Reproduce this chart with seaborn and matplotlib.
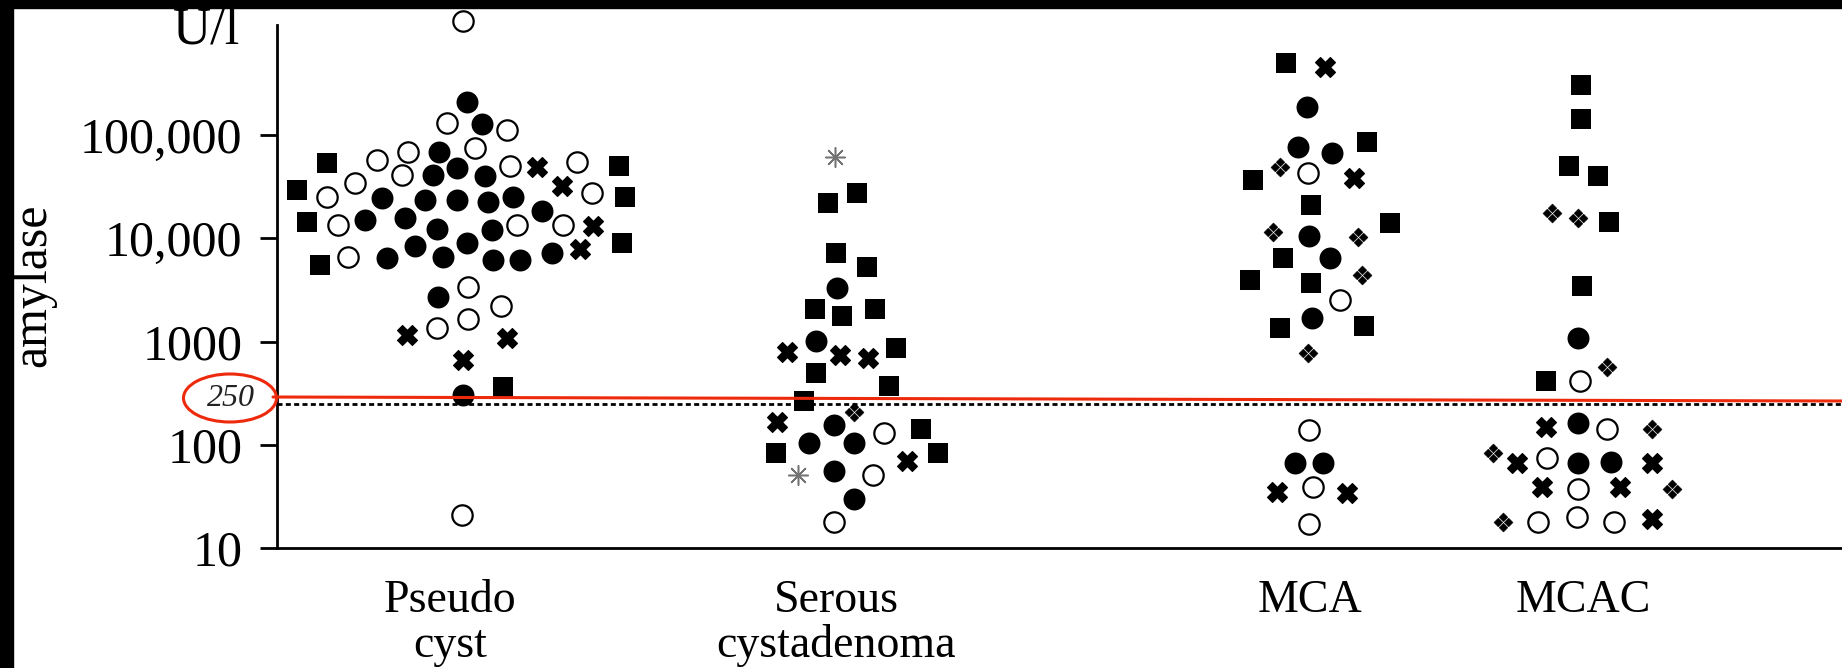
import numpy as np
import pandas as pd
import seaborn as sns
import matplotlib.pyplot as plt
from matplotlib.path import Path
from matplotlib.patches import Ellipse, Rectangle
from matplotlib.lines import Line2D
from matplotlib.ticker import NullLocator

# ---- data (amylase, U/l, log scale) ----
groups = ["Pseudo\ncyst", "Serous\ncystadenoma", "MCA", "MCAC"]
group_pos = [1.73, 5.59, 10.33, 13.06]

# kind codes: sq = filled square, fc = filled circle, oc = open circle,
#             x = cross, cl = clover, ast = asterisk
pseudo_kind = ["oc"] * 21 + ["fc"] * 25 + ["x"] * 7 + ["sq"] * 8
pseudo_dx = [0.13, -0.03, 0.57, 0.25, -0.42, -0.73, -0.48, 0.60, 1.27, -0.95, -1.23,
             1.42, -1.12, 0.67, 1.13, -1.02, 0.18, 0.51, -0.13, 0.18, 0.12,
             0.17, 0.32, -0.11, -0.17, 0.07, 0.35, -0.68, -0.25, 0.07, 0.38, 0.63,
             -0.85, -0.45, -0.13, 0.42, 0.92, -0.63, -0.35, -0.07, 0.17, 0.43, 0.70,
             1.02, -0.12, 0.13,
             0.87, 1.12, 1.43, 1.30, -0.43, 0.57, 0.13,
             -1.23, 1.69, -1.53, 1.75, -1.43, 1.72, -1.30, 0.53]
pseudo_amy = [1270000, 131000, 112000, 74800, 68400, 57300, 41000, 50100, 54800, 34300, 25100,
              27400, 13400, 13400, 13400, 6580, 3370, 2210, 1350, 1650, 21,
              209000, 128000, 68400, 41000, 47900, 40100, 24500, 23500, 23500, 22400, 25100,
              15000, 15700, 12300, 12000, 18400, 6440, 8410, 6580, 9000, 6150, 6150,
              7200, 2700, 303,
              49000, 32100, 13100, 7870, 1160, 1080, 662,
              53500, 50100, 29300, 25100, 14400, 9000, 5500, 362]

serous_kind = ["sq"] * 14 + ["fc"] * 7 + ["x"] * 5 + ["oc"] * 3 + ["ast"] * 2 + ["cl"]
serous_dx = [-0.08, 0.21, 0.00, 0.31, -0.21, 0.06, 0.39, 0.60, -0.20, 0.53, -0.32, 0.85, -0.60, 1.02,
             0.01, -0.20, -0.02, -0.27, 0.18, -0.02, 0.18,
             -0.49, 0.04, 0.32, -0.59, 0.71,
             0.48, 0.37, -0.02,
             -0.01, -0.38,
             0.18]
serous_amy = [21900, 27400, 7200, 5270, 2060, 1770, 2060, 865, 495, 371, 265, 142, 83, 83,
              3300, 1010, 155, 104, 104, 56, 30,
              791, 740, 692, 166, 70,
              130, 51, 18,
              61200, 51,
              208]

mca_kind = ["sq"] * 10 + ["fc"] * 8 + ["x"] * 4 + ["oc"] * 5 + ["cl"] * 5
mca_dx = [-0.24, 0.57, -0.57, 0.01, 0.80, -0.27, -0.60, 0.01, -0.30, 0.54,
          -0.03, -0.12, 0.22, -0.01, 0.20, 0.02, -0.15, 0.13,
          0.15, 0.44, -0.33, 0.37,
          -0.02, 0.30, -0.01, 0.03, -0.01,
          -0.30, -0.37, 0.48, 0.52, -0.02]
mca_amy = [498000, 85500, 36600, 21000, 14100, 6440, 3940, 3690, 1350, 1410,
           187000, 76500, 67000, 10500, 6440, 1690, 67, 67,
           456000, 38300, 35, 34,
           42800, 2520, 139, 39, 17,
           49000, 11500, 10300, 4400, 774]

mcac_kind = ["sq"] * 7 + ["fc"] * 4 + ["oc"] * 7 + ["x"] * 6 + ["cl"] * 7
mcac_dx = [-0.02, -0.02, -0.14, 0.15, 0.26, -0.01, -0.37,
           -0.05, -0.05, -0.05, 0.28,
           -0.03, 0.24, -0.36, -0.05, -0.45, -0.06, 0.31,
           -0.37, -0.66, 0.69, -0.41, 0.37, 0.69,
           -0.31, -0.05, 0.24, 0.69, -0.90, 0.89, -0.80]
mcac_amy = [305000, 143000, 50100, 40100, 14400, 3450, 414,
            1080, 162, 67, 68,
            414, 142, 75, 37, 18, 20, 18,
            149, 67, 67, 39, 39, 19,
            17600, 15700, 566, 142, 83, 37, 18]

cutoff = 250
yticks = [10, 100, 1000, 10000, 100000]
ytick_labels = ["10", "100", "1000", "10,000", "100,000"]

# ---- build the long table ----
frames = []
for name, pos, kind, dx, amy in zip(groups, group_pos,
                                    [pseudo_kind, serous_kind, mca_kind, mcac_kind],
                                    [pseudo_dx, serous_dx, mca_dx, mcac_dx],
                                    [pseudo_amy, serous_amy, mca_amy, mcac_amy]):
    frames.append(pd.DataFrame({"group": name, "kind": kind,
                                "x": pos + np.array(dx), "amylase": amy}))
df = pd.concat(frames, ignore_index=True)


def clover():
    verts, codes = [], []
    r = 0.46
    for cx, cy in [(0.54, 0), (-0.54, 0), (0, 0.54), (0, -0.54)]:
        verts += [(cx + r, cy), (cx, cy + r), (cx - r, cy), (cx, cy - r), (cx + r, cy)]
        codes += [Path.MOVETO, Path.LINETO, Path.LINETO, Path.LINETO, Path.CLOSEPOLY]
    return Path(verts, codes)


styles = {
    "sq": dict(marker="s", s=225, color="black", edgecolor="black", linewidth=0),
    "fc": dict(marker="o", s=250, color="black", edgecolor="black", linewidth=0),
    "oc": dict(marker="o", s=215, color="white", edgecolor="black", linewidth=1.6),
    "x": dict(marker="X", s=200, color="black", edgecolor="black", linewidth=1.0),
    "cl": dict(marker=clover(), s=190, color="black", edgecolor="black", linewidth=0.3),
    "ast": dict(marker=(8, 2, 0), s=200, color="0.45", linewidth=1.1),
}

sns.set_style("ticks")
plt.rcParams["font.family"] = ["Liberation Serif", "DejaVu Serif"]
plt.rcParams["text.color"] = "black"
plt.rcParams["xtick.color"] = "black"
plt.rcParams["ytick.color"] = "black"
plt.rcParams["axes.edgecolor"] = "black"

fig = plt.figure(figsize=(18.42, 6.68), dpi=100, facecolor="white")
ax = fig.add_axes([277 / 1842, 120 / 668, 1 - 277 / 1842, 523 / 668])

for kind, st in styles.items():
    sub = df[df["kind"] == kind]
    sns.scatterplot(data=sub, x="x", y="amylase", ax=ax, legend=False,
                    clip_on=False, zorder=3, **st)

ax.axhline(cutoff, color="black", lw=2.0, ls=(0, (1.8, 1.2)), zorder=1)

ax.set_yscale("log")
ax.set_ylim(10, 1.163e6)
ax.set_xlim(0, 15.65)
ax.set_yticks(yticks, labels=ytick_labels)
ax.yaxis.set_minor_locator(NullLocator())
ax.set_xticks(group_pos, labels=groups)
ax.set_xlabel("")
ax.set_ylabel("")
ax.tick_params(axis="y", direction="out", length=12, width=2, pad=13, labelsize=36,
               colors="black")
ax.tick_params(axis="x", length=0, pad=23, labelsize=33, colors="black")
for lab in ax.get_xticklabels():
    lab.set_linespacing(1.05)
sns.despine(ax=ax)
ax.spines["left"].set_linewidth(2)
ax.spines["bottom"].set_linewidth(2)

fig.text(33 / 1842, 1 - 285 / 668, "amylase", rotation=90, ha="center", va="center",
         fontsize=36, color="black")
fig.text(240 / 1842, 1 - 43 / 668, "U/l", ha="right", va="baseline", fontsize=38, color="black")

# red annotation of the 250 cut-off
red = "#ee2a0c"
fig.text(231 / 1842, 1 - 399 / 668, "250", style="italic", ha="center", va="center",
         fontsize=23, color="#222222")
fig.add_artist(Ellipse((230 / 1842, 1 - 398 / 668), 93 / 1842, 48 / 668, fill=False,
                       edgecolor=red, lw=2.2, transform=fig.transFigure, zorder=50))
fig.add_artist(Line2D([273 / 1842, 1], [1 - 397 / 668, 1 - 401 / 668], color=red, lw=2.2,
                      transform=fig.transFigure, zorder=50))

# black frame bits of the scanned image
fig.add_artist(Rectangle((0, 0), 13 / 1842, 1, color="black", transform=fig.transFigure, zorder=100))
fig.add_artist(Rectangle((0, 1 - 8 / 668), 1, 8 / 668, color="black", transform=fig.transFigure, zorder=100))

fig.savefig("out.png", dpi=100, facecolor="white")
